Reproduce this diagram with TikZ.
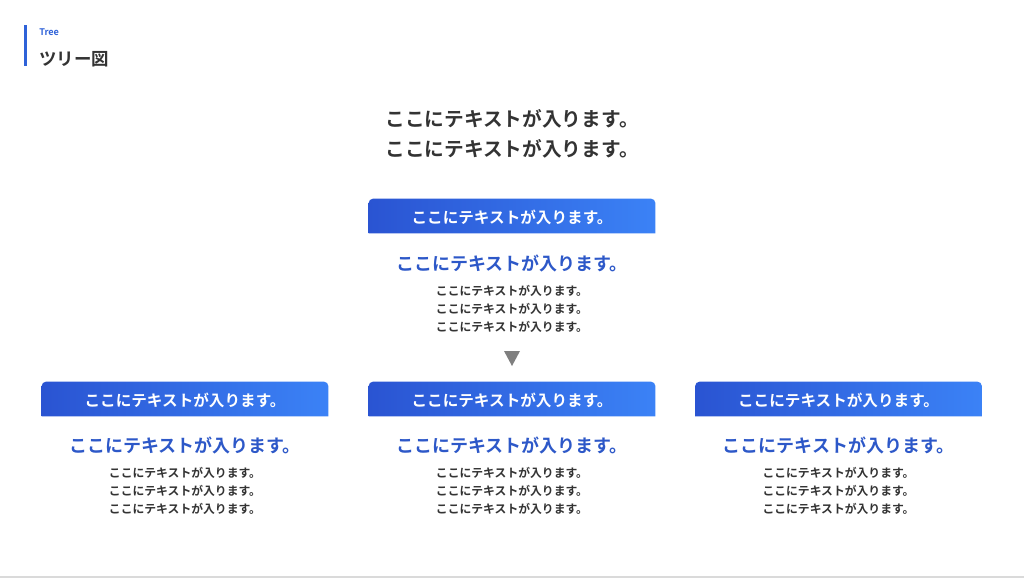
\documentclass[tikz,border=0pt]{standalone}
\usepackage{fontspec}
\setmainfont{Noto Sans CJK JP}[BoldFont={Noto Sans CJK JP Bold}]
\usetikzlibrary{backgrounds}
\definecolor{ink}{HTML}{333333}
\definecolor{headblue}{HTML}{2D58C8}
\definecolor{barleft}{HTML}{2A54D2}
\definecolor{barright}{HTML}{3B82F6}
\definecolor{accent}{HTML}{2F62D8}
\definecolor{arrowgray}{HTML}{7F7F7F}
\definecolor{rulegray}{HTML}{DADADA}

\begin{document}
\begin{tikzpicture}[
		x=0.025cm, y=-0.025cm,
		every node/.style={inner sep=0pt, font=\bfseries},
		bar/.style={minimum width=7.15cm, minimum height=0.85cm, text=white,
			font=\bfseries\fontsize{11.1}{13}\selectfont},
		head/.style={text=headblue, font=\bfseries\fontsize{12.8}{15}\selectfont},
		body/.style={text=ink, align=center, font=\bfseries\fontsize{8.4}{12.8}\selectfont},
		barshade/.style={left color=barleft, right color=barright}
	]
  \useasboundingbox (0,0) rectangle (1024,578);
  % title
  \fill[accent] (24,25) rectangle (27,66);
  \node (tag) [anchor=west, text=accent, font=\bfseries\fontsize{6.5}{8}\selectfont] at (39,32) {Tree};
  \node (title) [anchor=west, text=ink, font=\bfseries\fontsize{12.4}{14}\selectfont] at (39,59) {ツリー図};
  \node (lead) [text=ink, align=center, font=\bfseries\fontsize{14}{21.3}\selectfont] at (512,134)
    {ここにテキストが入ります。\\ここにテキストが入ります。};
  % top
  \node (bar_top) [bar] at (512,216) {};
  \node (bar_top_text) [bar, draw=none] at (512,217.5) {ここにテキストが入ります。};
  \node (head_top) [head] at (512,263) {ここにテキストが入ります。};
  \node (body_top) [body] at (512,309) {ここにテキストが入ります。\\ここにテキストが入ります。\\ここにテキストが入ります。};
  \fill[arrowgray] (504,351) -- (520,351) -- (512,366) -- cycle;
  % left
  \node (bar_l) [bar] at (185,399) {};
  \node (bar_l_text) [bar] at (185,400.5) {ここにテキストが入ります。};
  \node (head_l) [head] at (185,445) {ここにテキストが入ります。};
  \node (body_l) [body] at (185,491) {ここにテキストが入ります。\\ここにテキストが入ります。\\ここにテキストが入ります。};
  % middle
  \node (bar_m) [bar] at (512,399) {};
  \node (bar_m_text) [bar] at (512,400.5) {ここにテキストが入ります。};
  \node (head_m) [head] at (512,445) {ここにテキストが入ります。};
  \node (body_m) [body] at (512,491) {ここにテキストが入ります。\\ここにテキストが入ります。\\ここにテキストが入ります。};
  % right
  \node (bar_r) [bar] at (838.5,399) {};
  \node (bar_r_text) [bar] at (838.5,400.5) {ここにテキストが入ります。};
  \node (head_r) [head] at (838.5,445) {ここにテキストが入ります。};
  \node (body_r) [body] at (838.5,491) {ここにテキストが入ります。\\ここにテキストが入ります。\\ここにテキストが入ります。};
  \begin{scope}[on background layer]
    \shade[barshade] (bar_top.south west) [rounded corners=3pt] -- (bar_top.north west) -- (bar_top.north east) [sharp corners] -- (bar_top.south east) -- cycle;
    \shade[barshade] (bar_l.south west) [rounded corners=3pt] -- (bar_l.north west) -- (bar_l.north east) [sharp corners] -- (bar_l.south east) -- cycle;
    \shade[barshade] (bar_m.south west) [rounded corners=3pt] -- (bar_m.north west) -- (bar_m.north east) [sharp corners] -- (bar_m.south east) -- cycle;
    \shade[barshade] (bar_r.south west) [rounded corners=3pt] -- (bar_r.north west) -- (bar_r.north east) [sharp corners] -- (bar_r.south east) -- cycle;
  \end{scope}
  \fill[rulegray] (0,576) rectangle (1024,578);
\end{tikzpicture}
\end{document}
